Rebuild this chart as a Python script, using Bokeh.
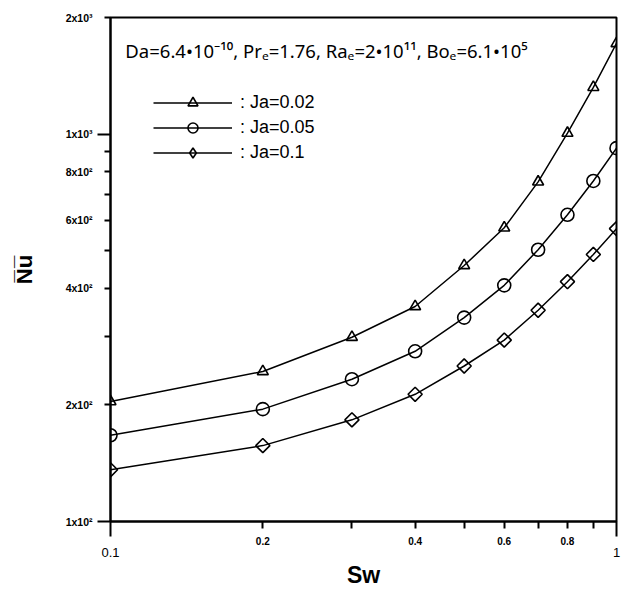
import math
from bokeh.plotting import figure
from bokeh.models import LogAxis, FixedTicker, Label, Legend, LegendItem, CustomJSTickFormatter
from bokeh.embed import file_html
from bokeh.resources import INLINE

# ---- data ----
sw = [0.1, 0.2, 0.3, 0.4, 0.5, 0.6, 0.7, 0.8, 0.9, 1.0]
nu_ja002 = [204, 244, 299, 359, 458, 573, 753, 1006, 1321, 1714]
nu_ja005 = [167, 195, 233, 275, 336, 407, 503, 619, 757, 920]
nu_ja01 = [136, 157, 183, 213, 252, 294, 351, 416, 489, 570]

series_labels = [": Ja=0.02", ": Ja=0.05", ": Ja=0.1"]

x_decade_ticks = [0.1, 1.0]
x_decade_text = ["0.1", "1"]
x_minor_ticks = [0.2, 0.3, 0.4, 0.5, 0.6, 0.7, 0.8, 0.9]
x_label_ticks = [0.2, 0.4, 0.6, 0.8]
x_label_text = ["0.2", "0.4", "0.6", "0.8"]

y_decade_ticks = [100, 1000]
y_minor_ticks = [200, 300, 400, 500, 600, 700, 800, 900, 2000]
y_label_ticks = [100, 200, 400, 600, 800, 1000, 2000]
y_label_text = ["1x10\u00b2", "2x10\u00b2", "4x10\u00b2", "6x10\u00b2", "8x10\u00b2", "1x10\u00b3", "2x10\u00b3"]

header_text = "Da=6.4\u202210\u207b\u00b9\u2070,  Pr\u2091=1.76, Ra\u2091=2\u202210\u00b9\u00b9, Bo\u2091=6.1\u202210\u2075"

FONT = "Liberation Sans"

p = figure(width=626, height=590, x_axis_type="log", y_axis_type="log",
           x_range=(0.1, 1.0), y_range=(100, 2000),
           output_backend="svg", toolbar_location=None,
           min_border_left=110, min_border_right=10, min_border_top=17, min_border_bottom=67)
p.grid.visible = False
p.outline_line_color = "black"
p.outline_line_width = 2
p.background_fill_color = "white"
p.border_fill_color = "white"

empty_fmt = CustomJSTickFormatter(code="return '';")

def lookup_fmt(vals, labs):
    return CustomJSTickFormatter(args=dict(vals=vals, labs=labs), code="""
        let best = 0;
        for (let i = 0; i < vals.length; i++) {
            if (Math.abs(Math.log(vals[i]) - Math.log(tick)) < Math.abs(Math.log(vals[best]) - Math.log(tick))) best = i;
        }
        return labs[best];
    """)

def label_axis(vals, labs, size, style, standoff, **kw):
    return LogAxis(ticker=FixedTicker(ticks=vals, minor_ticks=[]),
                   formatter=lookup_fmt(vals, labs),
                   axis_line_color=None, major_tick_line_color=None, minor_tick_line_color=None,
                   major_tick_out=0, major_tick_in=0, minor_tick_out=0, minor_tick_in=0,
                   major_label_standoff=standoff,
                   major_label_text_font=FONT, major_label_text_font_size=size,
                   major_label_text_font_style=style, major_label_text_color="black", **kw)

# tick-only axes next to the frame (long decade ticks, short intermediate ticks)
for ax, dec, mnr, tout, mout in ((p.xaxis[0], x_decade_ticks, x_minor_ticks, 15, 7),
                                 (p.yaxis[0], y_decade_ticks, y_minor_ticks, 13, 6)):
    ax.ticker = FixedTicker(ticks=dec, minor_ticks=mnr)
    ax.formatter = empty_fmt
    ax.major_label_text_font_size = "0px"
    ax.major_label_standoff = 0
    ax.axis_line_width = 2
    ax.axis_line_color = "black"
    ax.major_tick_out = tout
    ax.major_tick_in = 0
    ax.minor_tick_out = mout
    ax.minor_tick_in = 0
    ax.major_tick_line_width = 2
    ax.minor_tick_line_width = 2
    ax.major_tick_line_color = "black"
    ax.minor_tick_line_color = "black"

# x labels: small bold intermediate labels, then larger decade labels just below
p.add_layout(label_axis(x_label_ticks, x_label_text, "10px", "bold", 0), "below")
p.add_layout(label_axis(x_decade_ticks, x_decade_text, "13px", "normal", 0,
                        axis_label="Sw", axis_label_text_font=FONT, axis_label_text_font_size="23px",
                        axis_label_text_font_style="bold", axis_label_text_color="black",
                        axis_label_standoff=2), "below")

# y labels
p.add_layout(label_axis(y_label_ticks, y_label_text, "10.5px", "bold", 5,
                        axis_label="N\u0305u\u0305", axis_label_text_font=FONT,
                        axis_label_text_font_size="22px", axis_label_text_font_style="bold",
                        axis_label_text_color="black", axis_label_standoff=26), "left")

# data
series = [(nu_ja002, "triangle", 11, 0.0), (nu_ja005, "circle", 13, 0.0),
          (nu_ja01, "square", 10, math.pi / 4)]
legend_markers = ["triangle", "circle", "diamond"]
items = []
for (vals, mk, sz, ang), lmk, lab in zip(series, legend_markers, series_labels):
    ln = p.line(sw, vals, line_color="black", line_width=1.5)
    sc = p.scatter(sw, vals, marker=mk, size=sz, angle=ang, line_color="black", line_width=1.6,
                   fill_color="white", fill_alpha=0.0)
    if lmk == mk:
        key = sc
    else:
        key = p.scatter(sw, vals, marker=lmk, size=sz, line_color="black", line_width=1.6,
                        fill_alpha=0.0, visible=False)
    items.append(LegendItem(label=lab, renderers=[ln, key]))

legend = Legend(items=items, location=(43, 356), orientation="vertical",
                glyph_width=79, glyph_height=25, label_standoff=8, spacing=0,
                padding=0, margin=0,
                label_text_font=FONT, label_text_font_size="18px", label_text_color="black",
                background_fill_alpha=0, border_line_alpha=0)
p.add_layout(legend)

p.add_layout(Label(x=0.107, y=1640, text=header_text, text_baseline="middle",
                   text_font="Noto Sans", text_font_size="18.5px", text_color="black"))

open("out.html", "w").write(file_html(p, INLINE))
